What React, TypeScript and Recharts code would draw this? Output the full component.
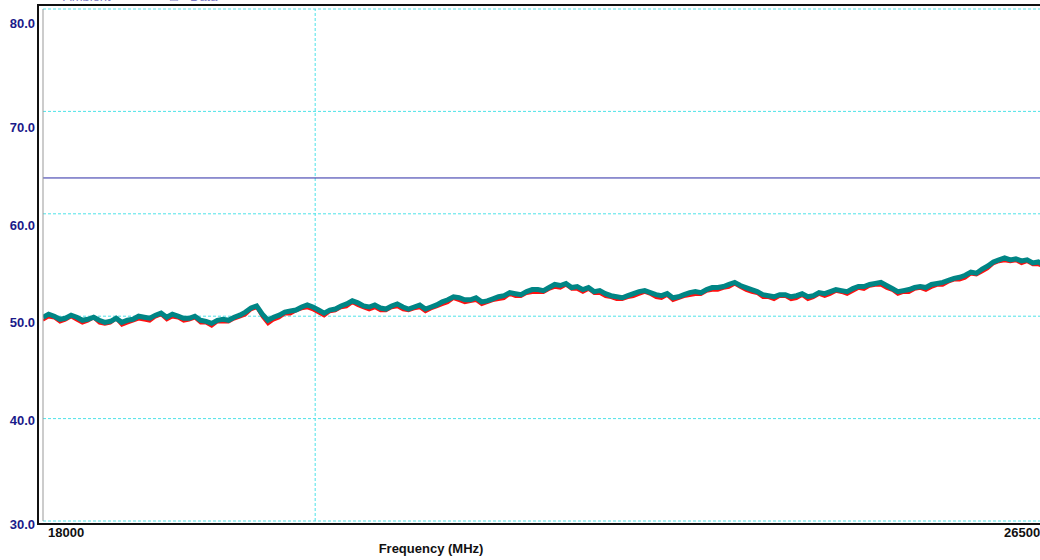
import React from 'react';
import { LineChart, Line, XAxis, YAxis, CartesianGrid, ReferenceLine } from 'recharts';

// sweep points, MHz
const freqs = [
  18000, 18050, 18100, 18150, 18200, 18250, 18300, 18350, 18400, 18450,
  18500, 18550, 18600, 18650, 18700, 18750, 18800, 18850, 18900, 18950,
  19000, 19050, 19100, 19150, 19200, 19250, 19300, 19350, 19400, 19450,
  19500, 19550, 19600, 19650, 19700, 19750, 19800, 19850, 19900, 19950,
  20000, 20050, 20100, 20150, 20200, 20250, 20300, 20350, 20400, 20450,
  20500, 20550, 20600, 20650, 20700, 20750, 20800, 20850, 20900, 20950,
  21000, 21050, 21100, 21150, 21200, 21250, 21300, 21350, 21400, 21450,
  21500, 21550, 21600, 21650, 21700, 21750, 21800, 21850, 21900, 21950,
  22000, 22050, 22100, 22150, 22200, 22250, 22300, 22350, 22400, 22450,
  22500, 22550, 22600, 22650, 22700, 22750, 22800, 22850, 22900, 22950,
  23000, 23050, 23100, 23150, 23200, 23250, 23300, 23350, 23400, 23450,
  23500, 23550, 23600, 23650, 23700, 23750, 23800, 23850, 23900, 23950,
  24000, 24050, 24100, 24150, 24200, 24250, 24300, 24350, 24400, 24450,
  24500, 24550, 24600, 24650, 24700, 24750, 24800, 24850, 24900, 24950,
  25000, 25050, 25100, 25150, 25200, 25250, 25300, 25350, 25400, 25450,
  25500, 25550, 25600, 25650, 25700, 25750, 25800, 25850, 25900, 25950,
  26000, 26050, 26100, 26150, 26200, 26250, 26300, 26350, 26400, 26450,
  26500, 26550, 26600, 26650, 26700, 26750, 26800, 26850, 26900, 26950,
];

// red trace
const ambient = [
  49.6, 49.9, 49.8, 49.4, 49.6, 49.9, 49.6, 49.3, 49.5, 49.8,
  49.3, 49.2, 49.3, 49.7, 49.1, 49.3, 49.5, 49.7, 49.6, 49.5,
  49.9, 50.1, 49.6, 49.9, 49.8, 49.5, 49.6, 49.8, 49.3, 49.3,
  49.0, 49.4, 49.4, 49.4, 49.7, 49.9, 50.1, 50.6, 50.8, 49.9,
  49.2, 49.6, 49.8, 50.2, 50.2, 50.5, 50.7, 50.8, 50.6, 50.3,
  50.0, 50.4, 50.5, 50.8, 50.9, 51.3, 51.0, 50.8, 50.6, 50.8,
  50.5, 50.5, 50.8, 50.9, 50.6, 50.5, 50.7, 50.8, 50.4, 50.7,
  50.9, 51.1, 51.3, 51.7, 51.5, 51.3, 51.4, 51.5, 51.1, 51.3,
  51.5, 51.6, 51.7, 52.1, 51.9, 51.9, 52.2, 52.3, 52.3, 52.3,
  52.6, 52.8, 52.7, 53.0, 52.6, 52.6, 52.3, 52.6, 52.2, 52.2,
  51.9, 51.8, 51.6, 51.6, 51.8, 51.9, 52.1, 52.3, 52.1, 51.8,
  51.7, 52.0, 51.5, 51.7, 51.9, 52.0, 52.1, 52.1, 52.4, 52.5,
  52.5, 52.7, 52.8, 53.1, 52.8, 52.5, 52.3, 52.2, 51.8, 51.8,
  51.6, 51.9, 51.9, 51.6, 51.7, 52.0, 51.6, 51.8, 52.1, 51.9,
  52.1, 52.4, 52.3, 52.1, 52.4, 52.7, 52.6, 52.9, 53.0, 53.0,
  52.7, 52.5, 52.1, 52.3, 52.3, 52.6, 52.7, 52.5, 52.8, 53.0,
  53.0, 53.3, 53.5, 53.5, 53.7, 54.1, 54.0, 54.3, 54.6, 55.1,
  55.3, 55.4, 55.3, 55.4, 55.1, 55.3, 55.0, 55.0, 54.8, 54.9,
];

// teal trace
const data = [
  49.9, 50.2, 50.0, 49.7, 49.8, 50.1, 49.9, 49.6, 49.7, 49.9,
  49.6, 49.4, 49.5, 49.8, 49.4, 49.6, 49.7, 50.0, 49.9, 49.8,
  50.1, 50.3, 49.9, 50.2, 50.0, 49.8, 49.8, 50.0, 49.6, 49.5,
  49.3, 49.6, 49.7, 49.6, 49.9, 50.1, 50.4, 50.8, 51.0, 50.2,
  49.6, 49.9, 50.1, 50.4, 50.5, 50.6, 50.9, 51.1, 50.9, 50.6,
  50.3, 50.6, 50.7, 51.0, 51.2, 51.5, 51.3, 51.0, 50.9, 51.1,
  50.8, 50.7, 51.0, 51.2, 50.9, 50.7, 50.9, 51.1, 50.7, 50.9,
  51.1, 51.4, 51.6, 51.9, 51.8, 51.6, 51.6, 51.8, 51.4, 51.5,
  51.7, 51.9, 52.0, 52.3, 52.2, 52.1, 52.4, 52.6, 52.6, 52.5,
  52.8, 53.1, 53.0, 53.2, 52.8, 52.9, 52.6, 52.8, 52.4, 52.5,
  52.2, 52.0, 51.9, 51.8, 52.0, 52.2, 52.4, 52.5, 52.3, 52.1,
  52.0, 52.2, 51.8, 51.9, 52.1, 52.3, 52.4, 52.3, 52.6, 52.8,
  52.8, 52.9, 53.1, 53.3, 53.0, 52.8, 52.6, 52.4, 52.1, 52.0,
  51.9, 52.1, 52.1, 51.9, 52.0, 52.2, 51.9, 52.0, 52.3, 52.2,
  52.4, 52.6, 52.5, 52.4, 52.7, 52.9, 52.9, 53.1, 53.2, 53.3,
  53.0, 52.7, 52.4, 52.5, 52.6, 52.8, 52.9, 52.8, 53.1, 53.2,
  53.3, 53.5, 53.7, 53.8, 54.0, 54.3, 54.2, 54.6, 54.9, 55.3,
  55.5, 55.7, 55.5, 55.6, 55.4, 55.5, 55.2, 55.3, 55.0, 55.1,
];

const yTicks = [30, 40, 50, 60, 70, 80];
const xTicks = [18000, 26500];
const limitLevel = 63.5;
const markerFreq = 20420;

const rows = freqs.map((f, i) => ({ freq: f, ambient: ambient[i], data: data[i] }));

// the original labels sit a little under their grid lines
const yLabelShift: Record<number, number> = { 80: 14, 70: 16, 60: 11, 50: 6, 40: 1, 30: 3 };

const FONT = '"Liberation Sans", Arial, sans-serif';
const GRID = '#4fe3e8';

const YTick = (props: any) => {
  const v = props.payload.value;
  return (
    <text x={35} y={props.y + (yLabelShift[v] || 0) + 5} textAnchor="end"
      fontFamily={FONT} fontWeight="bold" fontSize={13} fill="#1a1a8a">
      {v.toFixed(1)}
    </text>
  );
};

const XTick = (props: any) => (
  <text x={props.x + 5} y={props.y + 16} textAnchor="start"
    fontFamily={FONT} fontWeight="bold" fontSize={13} fill="#111">
    {props.payload.value}
  </text>
);

export default function App() {
  return (
    <div style={{ position: 'absolute', left: 0, top: 0, width: 1040, height: 560, overflow: 'hidden', background: '#fff' }}>
      {/* legend, mostly cut off by the crop */}
      <div style={{ position: 'absolute', left: 0, top: -11, fontFamily: FONT, fontSize: 13, color: '#7c7cc8', whiteSpace: 'nowrap' }}>
        <span style={{ position: 'absolute', left: 4 }}>—</span>
        <span style={{ position: 'absolute', left: 63 }}>Ambient</span>
        <span style={{ position: 'absolute', left: 170 }}>□</span>
        <span style={{ position: 'absolute', left: 190 }}>Data</span>
      </div>
      <LineChart width={1044} height={560} data={rows} margin={{ top: 9, right: 0, bottom: 0, left: 0 }}>
        <CartesianGrid vertical={false} stroke={GRID} strokeDasharray="3 2" />
        <XAxis dataKey="freq" type="number" domain={[18000, 26900]} allowDataOverflow ticks={xTicks}
          axisLine={false} tickLine={false} tickSize={0} tickMargin={0} height={39} tick={XTick} />
        <YAxis type="number" domain={[30, 80]} ticks={yTicks} width={43}
          axisLine={{ stroke: '#999' }} tickLine={false} tick={YTick} />
        <ReferenceLine x={markerFreq} stroke={GRID} strokeDasharray="3 2" />
        <ReferenceLine y={limitLevel} stroke="#2b2ba6" strokeWidth={1} />
        <Line dataKey="ambient" stroke="#ff1010" strokeWidth={2.5} dot={false} type="linear" isAnimationActive={false} />
        <Line dataKey="data" stroke="#008585" strokeWidth={5} dot={false} type="linear" isAnimationActive={false} />
      </LineChart>
      {/* outer frame */}
      <div style={{ position: 'absolute', left: 37, top: 4, width: 1100, height: 517, borderLeft: '2px solid #111', borderTop: '2px solid #111', borderBottom: '2px solid #111', pointerEvents: 'none' }} />
      <div style={{ position: 'absolute', left: 431, top: 541, transform: 'translateX(-50%)', fontFamily: FONT, fontWeight: 'bold', fontSize: 13, lineHeight: '16px', color: '#111', whiteSpace: 'nowrap' }}>
        Frequency (MHz)
      </div>
    </div>
  );
}
